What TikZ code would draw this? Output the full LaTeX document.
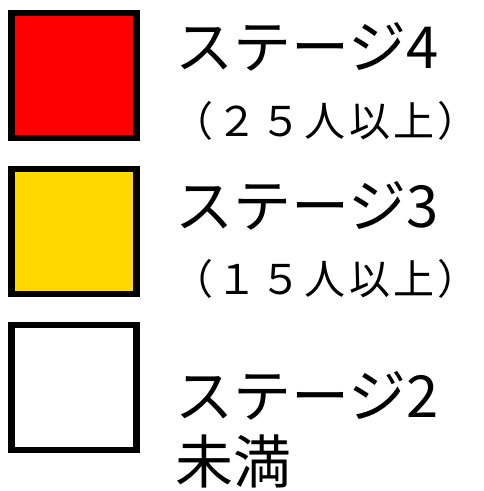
\documentclass[tikz,border=0pt]{standalone}
\usepackage{fontspec}
\setmainfont{Noto Sans CJK JP}
\newfontfamily\stagesubfont[LetterSpace=8]{Noto Sans CJK JP}
\usetikzlibrary{positioning}
\definecolor{stagegold}{RGB}{255,216,0}

\tikzset{
  stagebox/.style={draw=black, line width=6.5pt, minimum size=125pt, inner sep=0pt},
  stagelbl/.style={anchor=base west, inner sep=0pt, font=\fontsize{58}{60}\selectfont},
  stagesub/.style={anchor=base west, inner sep=0pt, font=\stagesubfont\fontsize{41}{46}\selectfont}
}

\begin{document}
\begin{tikzpicture}[x=1pt, y=-1pt]
  \useasboundingbox (0,0) rectangle (484,491);

  % colour boxes
  \node[stagebox, fill=red] (s4box) at (74,75.5) {};
  \node[stagebox, fill=stagegold] (s3box) at (74,231.5) {};
  \node[stagebox, fill=white] (s2box) at (74,387.5) {};

  % labels
  \node[stagelbl] (s4lbl) at (175,68) {ステージ4};
  \node[stagesub] (s4sub) at (172,136) {（２５人以上）};
  \node[stagelbl] (s3lbl) at (175,227) {ステージ3};
  \node[stagesub] (s3sub) at (172,294) {（１５人以上）};
  \node[stagelbl] (s2lbl) at (175,417) {ステージ2};
  \node[stagelbl] (s2sub) at (175,483) {未満};
\end{tikzpicture}
\end{document}
